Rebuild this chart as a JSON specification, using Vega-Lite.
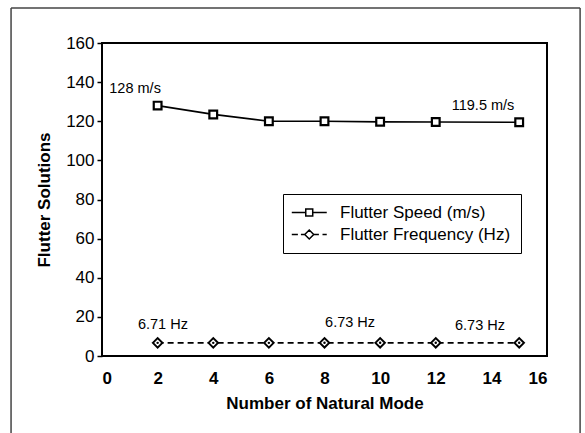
{
  "$schema": "https://vega.github.io/schema/vega-lite/v6.json",
  "width": 445,
  "height": 313,
  "autosize": "none",
  "padding": {"left": 102, "top": 43, "right": 38, "bottom": 77},
  "background": "white",
  "config": {
    "font": "Liberation Sans",
    "view": {"stroke": "black", "strokeWidth": 2},
    "axis": {"grid": false, "domain": false, "labelColor": "black", "titleColor": "black", "labelFont": "Liberation Sans", "titleFont": "Liberation Sans"}
  },
  "datasets": {
    "solutions": [
      {"mode": 2, "value": 128, "series": "Flutter Speed (m/s)"},
      {"mode": 4, "value": 123.5, "series": "Flutter Speed (m/s)"},
      {"mode": 6, "value": 120, "series": "Flutter Speed (m/s)"},
      {"mode": 8, "value": 120, "series": "Flutter Speed (m/s)"},
      {"mode": 10, "value": 119.7, "series": "Flutter Speed (m/s)"},
      {"mode": 12, "value": 119.6, "series": "Flutter Speed (m/s)"},
      {"mode": 15, "value": 119.5, "series": "Flutter Speed (m/s)"},
      {"mode": 2, "value": 6.71, "series": "Flutter Frequency (Hz)"},
      {"mode": 4, "value": 6.72, "series": "Flutter Frequency (Hz)"},
      {"mode": 6, "value": 6.72, "series": "Flutter Frequency (Hz)"},
      {"mode": 8, "value": 6.73, "series": "Flutter Frequency (Hz)"},
      {"mode": 10, "value": 6.73, "series": "Flutter Frequency (Hz)"},
      {"mode": 12, "value": 6.73, "series": "Flutter Frequency (Hz)"},
      {"mode": 15, "value": 6.73, "series": "Flutter Frequency (Hz)"}
    ],
    "notes": [
      {"label": "128 m/s", "mode": 1.19, "value": 136.4},
      {"label": "119.5 m/s", "mode": 13.7, "value": 127.7},
      {"label": "6.71 Hz", "mode": 2.19, "value": 15.8},
      {"label": "6.73 Hz", "mode": 8.92, "value": 16.8},
      {"label": "6.73 Hz", "mode": 13.59, "value": 15.3}
    ],
    "frame": [
      {"mode": -3.27, "mode2": -3.27, "value": 177.9, "value2": -43},
      {"mode": 17.19, "mode2": 17.19, "value": 177.9, "value2": -43},
      {"mode": -3.27, "mode2": 17.19, "value": 177.9, "value2": 177.9}
    ]
  },
  "encoding": {
    "x": {
      "field": "mode", "type": "quantitative",
      "scale": {"domain": [0, 16], "nice": false, "zero": false},
      "axis": {"title": "Number of Natural Mode", "values": [0, 2, 4, 6, 8, 10, 12, 14, 16], "ticks": false, "labelPadding": 14, "labelFontSize": 17, "labelFontWeight": "bold", "titleFontSize": 17, "titleFontWeight": "bold", "titlePadding": 9}
    },
    "y": {
      "field": "value", "type": "quantitative",
      "scale": {"domain": [0, 160], "nice": false},
      "axis": {"title": "Flutter Solutions", "values": [0, 20, 40, 60, 80, 100, 120, 140, 160], "tickSize": 5, "tickWidth": 1.5, "tickColor": "black", "labelPadding": 3, "labelFontSize": 17, "titleFontSize": 17, "titleFontWeight": "bold", "titlePadding": 12}
    }
  },
  "layer": [
    {
      "data": {"name": "frame"},
      "mark": {"type": "rule", "color": "#444", "strokeWidth": 1.5, "clip": false},
      "encoding": {
        "x2": {"field": "mode2"},
        "y2": {"field": "value2"}
      }
    },
    {
      "data": {"name": "solutions"},
      "transform": [{"filter": "datum.series === 'Flutter Speed (m/s)'"}],
      "mark": {"type": "line", "color": "black", "strokeWidth": 1.6},
      "encoding": {}
    },
    {
      "data": {"name": "solutions"},
      "transform": [{"filter": "datum.series === 'Flutter Frequency (Hz)'"}],
      "mark": {"type": "line", "color": "black", "strokeWidth": 1.6, "strokeDash": [6, 4]},
      "encoding": {}
    },
    {
      "data": {"name": "solutions"},
      "mark": {"type": "point", "filled": false, "color": "black", "opacity": 0},
      "encoding": {
        "shape": {
          "field": "series", "type": "nominal",
          "scale": {
            "domain": ["Flutter Speed (m/s)", "Flutter Frequency (Hz)"],
            "range": [
              "M-1.62,0H0.71M1.87,0H4.21M0.71,-0.58H1.87V0.58H0.71Z",
              "M-1.62,0H-0.6M-0.1,0H0.5M2.1,0H2.9M3.5,0H4.21M1.29,-0.75L2.04,0L1.29,0.75L0.54,0Z"
            ]
          },
          "legend": {
            "title": null,
            "orient": "none",
            "legendX": 181,
            "legendY": 151,
            "direction": "vertical",
            "padding": 10,
            "strokeColor": "black",
            "fillColor": "white",
            "symbolSize": 144,
            "symbolOpacity": 1,
            "symbolStrokeColor": "black",
            "symbolStrokeWidth": 1.5,
            "labelFontSize": 17,
            "labelColor": "black",
            "labelLimit": 300,
            "labelOffset": 30,
            "rowPadding": 4
          }
        }
      }
    },
    {
      "data": {"name": "solutions"},
      "transform": [{"filter": "datum.series === 'Flutter Speed (m/s)'"}],
      "mark": {"type": "point", "shape": "square", "filled": true, "fill": "white", "stroke": "black", "strokeWidth": 2.2, "size": 60, "opacity": 1},
      "encoding": {}
    },
    {
      "data": {"name": "solutions"},
      "transform": [{"filter": "datum.series === 'Flutter Frequency (Hz)'"}],
      "mark": {"type": "point", "shape": "diamond", "filled": true, "fill": "white", "stroke": "black", "strokeWidth": 2, "size": 90, "opacity": 1},
      "encoding": {}
    },
    {
      "data": {"name": "solutions"},
      "transform": [{"filter": "datum.series === 'Flutter Frequency (Hz)'"}],
      "mark": {"type": "point", "filled": true, "color": "black", "size": 6, "opacity": 1},
      "encoding": {}
    },
    {
      "data": {"name": "notes"},
      "mark": {"type": "text", "fontSize": 14.5, "color": "black", "align": "center", "baseline": "middle"},
      "encoding": {"text": {"field": "label"}}
    },
    {
      "data": {"values": [{}]},
      "mark": {"type": "text", "text": "S1-EQ2", "fontSize": 19, "color": "black", "align": "left", "baseline": "middle"},
      "encoding": {
        "x": {"datum": 0.36, "type": "quantitative"},
        "y": {"datum": 149.6, "type": "quantitative"}
      }
    }
  ]
}
